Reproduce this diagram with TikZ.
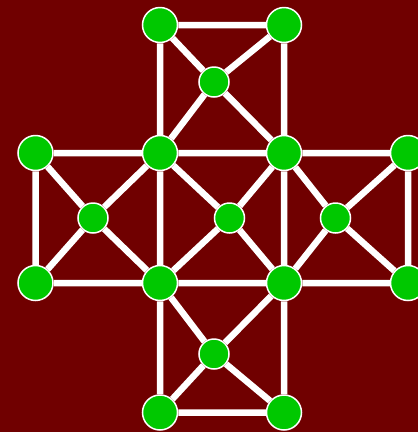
\documentclass[tikz,border=0pt]{standalone}
\definecolor{bgred}{HTML}{700000}
\definecolor{vgreen}{HTML}{00C800}
\tikzset{
  vtx/.style={circle,fill=vgreen,draw=white,line width=1.5pt,minimum size=35pt,inner sep=0pt},
  vsm/.style={circle,fill=vgreen,draw=white,line width=1.5pt,minimum size=30pt,inner sep=0pt},
  edge/.style={draw=white,line width=6.5pt}
}
\begin{document}
\begin{tikzpicture}[x=1pt,y=-1pt]
\fill[bgred] (0,0) rectangle (418,432);
\useasboundingbox (0,0) rectangle (418,432);
\clip (0,0) rectangle (418,432);
\node[vtx] (A) at (160,25) {};
\node[vtx] (B) at (284,25) {};
\node[vsm] (C) at (214,82) {};
\node[vtx] (D) at (35.5,153) {};
\node[vtx] (E) at (160,153) {};
\node[vtx] (F) at (284,153) {};
\node[vtx] (G) at (408,153) {};
\node[vsm] (H) at (93,218) {};
\node[vsm] (I) at (229.5,218) {};
\node[vsm] (J) at (335.5,218) {};
\node[vtx] (K) at (35.5,283) {};
\node[vtx] (L) at (160,283) {};
\node[vtx] (M) at (284,283) {};
\node[vtx] (N) at (408,283) {};
\node[vsm] (O) at (214,354) {};
\node[vtx] (P) at (160,412.5) {};
\node[vtx] (Q) at (284,412.5) {};
\path[edge] (A) -- (B) (A) -- (E) (B) -- (F) (A) -- (C) (C) -- (F) (B) -- (C) (C) -- (E)
  (D) -- (E) (E) -- (F) (F) -- (G) (D) -- (K) (G) -- (N) (E) -- (L) (F) -- (M)
  (D) -- (H) (H) -- (L) (K) -- (H) (H) -- (E)
  (E) -- (I) (I) -- (M) (L) -- (I) (I) -- (F)
  (F) -- (J) (J) -- (N) (M) -- (J) (J) -- (G)
  (K) -- (L) (L) -- (M) (M) -- (N)
  (L) -- (O) (O) -- (Q) (M) -- (O) (O) -- (P)
  (L) -- (P) (M) -- (Q) (P) -- (Q);
\end{tikzpicture}
\end{document}
